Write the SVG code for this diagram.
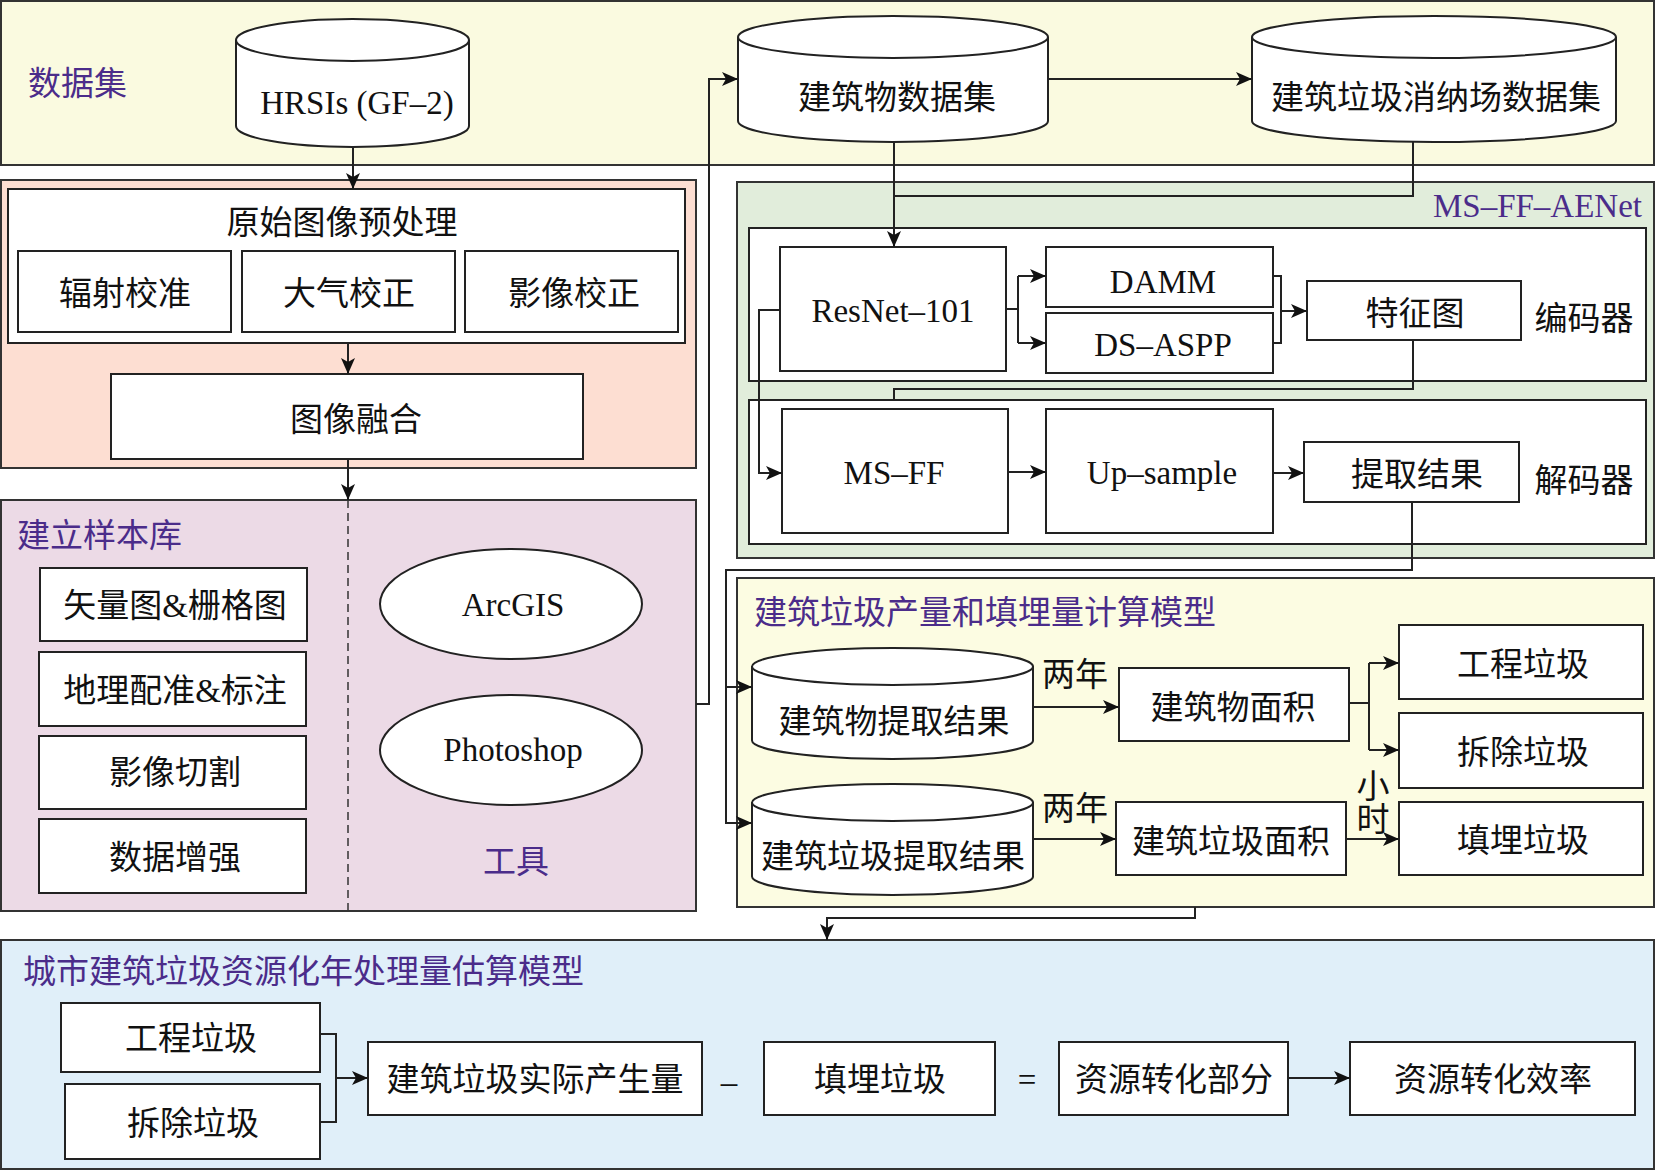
<svg xmlns="http://www.w3.org/2000/svg" width="1656" height="1171" viewBox="0 0 1656 1171">
<style>
.panel{stroke:#333;stroke-width:2}
.box{fill:#fff;stroke:#222;stroke-width:2}
.t{font-family:'Liberation Serif','Noto Sans CJK SC',serif;font-size:33px;fill:#111;text-anchor:middle;dominant-baseline:central}
.ttl{fill:#4B2C8A;text-anchor:start}
.conn{fill:none;stroke:#222;stroke-width:2}
.dash{fill:none;stroke:#333;stroke-width:1.5;stroke-dasharray:8,5}
</style>
<defs>
<marker id="ah" markerWidth="18" markerHeight="14" refX="16" refY="7" orient="auto" markerUnits="userSpaceOnUse"><path d="M0,0 L16,7 L0,14 L4,7 z" fill="#111"/></marker>
</defs>

<g id="panels">
<rect class="panel" x="1" y="1" width="1653" height="164" fill="#FAFAE0"/>
<rect class="panel" x="1" y="180" width="695" height="288" fill="#FDDED2"/>
<rect class="panel" x="1" y="500" width="695" height="411" fill="#ECDAE6"/>
<rect class="panel" x="737" y="182" width="917" height="376" fill="#E1EDDB"/>
<rect class="panel" x="737" y="578" width="917" height="329" fill="#FCFCE2"/>
<rect class="panel" x="1" y="940" width="1653" height="229" fill="#E0EFF9"/>
<line class="dash" x1="348" y1="500" x2="348" y2="911"/>
<rect class="box" x="749" y="228" width="897" height="153"/>
<rect class="box" x="749" y="400" width="897" height="144"/>
</g>

<g id="labels">
<text class="t ttl" x="28" y="84">数据集</text>
<text class="t ttl" x="17" y="536">建立样本库</text>
<text class="t ttl" x="516" y="862" style="text-anchor:middle">工具</text>
<text class="t ttl" x="1642" y="206" style="text-anchor:end">MS–FF–AENet</text>
<text class="t" x="1584" y="319">编码器</text>
<text class="t" x="1584" y="481">解码器</text>
<text class="t ttl" x="754" y="613">建筑垃圾产量和填埋量计算模型</text>
<text class="t ttl" x="23" y="972">城市建筑垃圾资源化年处理量估算模型</text>
<text class="t" x="1075" y="675">两年</text>
<text class="t" x="1075" y="809">两年</text>
<text class="t" x="1373" y="787">小</text>
<text class="t" x="1373" y="820">时</text>
<text class="t" x="729" y="1082">–</text>
<text class="t" x="1027" y="1080">=</text>
</g>

<g id="n-hrsis">
<path class="box" d="M236,40 A116.5,21 0 0 1 469,40 V126 A116.5,21 0 0 1 236,126 Z"/>
<path class="conn" d="M236,40 A116.5,21 0 0 0 469,40"/>
<text class="t" x="357" y="103">HRSIs (GF–2)</text>
</g>
<g id="n-building-ds">
<path class="box" d="M738,37 A155,21 0 0 1 1048,37 V121 A155,21 0 0 1 738,121 Z"/>
<path class="conn" d="M738,37 A155,21 0 0 0 1048,37"/>
<text class="t" x="897" y="98">建筑物数据集</text>
</g>
<g id="n-landfill-ds">
<path class="box" d="M1252,37 A182,21 0 0 1 1616,37 V121 A182,21 0 0 1 1252,121 Z"/>
<path class="conn" d="M1252,37 A182,21 0 0 0 1616,37"/>
<text class="t" x="1436" y="98">建筑垃圾消纳场数据集</text>
</g>

<g id="n-preprocess">
<rect class="box" x="8" y="189" width="677" height="154"/>
<text class="t" x="342" y="223">原始图像预处理</text>
</g>
<g id="n-radiometric"><rect class="box" x="18" y="251" width="213" height="81"/><text class="t" x="125" y="294">辐射校准</text></g>
<g id="n-atmospheric"><rect class="box" x="242" y="251" width="213" height="81"/><text class="t" x="349" y="294">大气校正</text></g>
<g id="n-geometric"><rect class="box" x="465" y="251" width="213" height="81"/><text class="t" x="574" y="294">影像校正</text></g>
<g id="n-fusion"><rect class="box" x="111" y="374" width="472" height="85"/><text class="t" x="356" y="420">图像融合</text></g>

<g id="n-vector"><rect class="box" x="40" y="568" width="267" height="73"/><text class="t" x="175" y="606">矢量图&amp;栅格图</text></g>
<g id="n-georef"><rect class="box" x="39" y="652" width="267" height="74"/><text class="t" x="175" y="691">地理配准&amp;标注</text></g>
<g id="n-cut"><rect class="box" x="39" y="736" width="267" height="73"/><text class="t" x="175" y="773">影像切割</text></g>
<g id="n-augment"><rect class="box" x="39" y="819" width="267" height="74"/><text class="t" x="175" y="858">数据增强</text></g>
<g id="n-arcgis"><ellipse class="box" cx="511" cy="604" rx="131" ry="55"/><text class="t" x="513" y="605">ArcGIS</text></g>
<g id="n-photoshop"><ellipse class="box" cx="511" cy="750" rx="131" ry="55"/><text class="t" x="513" y="750">Photoshop</text></g>

<g id="n-resnet"><rect class="box" x="780" y="247" width="226" height="124"/><text class="t" x="893" y="311">ResNet–101</text></g>
<g id="n-damm"><rect class="box" x="1046" y="247" width="227" height="60"/><text class="t" x="1163" y="282">DAMM</text></g>
<g id="n-dsaspp"><rect class="box" x="1046" y="313" width="227" height="60"/><text class="t" x="1163" y="345">DS–ASPP</text></g>
<g id="n-featmap"><rect class="box" x="1307" y="281" width="214" height="59"/><text class="t" x="1415" y="314">特征图</text></g>
<g id="n-msff"><rect class="box" x="782" y="409" width="226" height="124"/><text class="t" x="894" y="473">MS–FF</text></g>
<g id="n-upsample"><rect class="box" x="1046" y="409" width="227" height="124"/><text class="t" x="1162" y="473">Up–sample</text></g>
<g id="n-result"><rect class="box" x="1304" y="442" width="215" height="60"/><text class="t" x="1417" y="475">提取结果</text></g>

<g id="n-bextract">
<path class="box" d="M752,666.5 A140.5,18.5 0 0 1 1033,666.5 V740.5 A140.5,18.5 0 0 1 752,740.5 Z"/>
<path class="conn" d="M752,666.5 A140.5,18.5 0 0 0 1033,666.5"/>
<text class="t" x="894" y="722">建筑物提取结果</text>
</g>
<g id="n-wextract">
<path class="box" d="M752,802.5 A140.5,18.5 0 0 1 1033,802.5 V876.5 A140.5,18.5 0 0 1 752,876.5 Z"/>
<path class="conn" d="M752,802.5 A140.5,18.5 0 0 0 1033,802.5"/>
<text class="t" x="893" y="857">建筑垃圾提取结果</text>
</g>
<g id="n-barea"><rect class="box" x="1119" y="668" width="230" height="73"/><text class="t" x="1233" y="708">建筑物面积</text></g>
<g id="n-warea"><rect class="box" x="1116" y="802" width="230" height="73"/><text class="t" x="1231" y="842">建筑垃圾面积</text></g>
<g id="n-eng"><rect class="box" x="1399" y="625" width="244" height="74"/><text class="t" x="1523" y="665">工程垃圾</text></g>
<g id="n-demo"><rect class="box" x="1399" y="713" width="244" height="75"/><text class="t" x="1523" y="753">拆除垃圾</text></g>
<g id="n-landfill"><rect class="box" x="1399" y="802" width="244" height="73"/><text class="t" x="1523" y="841">填埋垃圾</text></g>

<g id="n-eng2"><rect class="box" x="61" y="1003" width="259" height="69"/><text class="t" x="191" y="1039">工程垃圾</text></g>
<g id="n-demo2"><rect class="box" x="65" y="1084" width="255" height="75"/><text class="t" x="193" y="1124">拆除垃圾</text></g>
<g id="n-actual"><rect class="box" x="368" y="1042" width="334" height="73"/><text class="t" x="535" y="1080">建筑垃圾实际产生量</text></g>
<g id="n-landfill2"><rect class="box" x="764" y="1042" width="231" height="73"/><text class="t" x="880" y="1080">填埋垃圾</text></g>
<g id="n-convpart"><rect class="box" x="1059" y="1042" width="229" height="73"/><text class="t" x="1174" y="1080">资源转化部分</text></g>
<g id="n-convrate"><rect class="box" x="1350" y="1042" width="285" height="73"/><text class="t" x="1493" y="1080">资源转化效率</text></g>

<g id="connectors">
<path class="conn" d="M353,147 V189" marker-end="url(#ah)"/>
<path class="conn" d="M348,343 V374" marker-end="url(#ah)"/>
<path class="conn" d="M348,459 V500" marker-end="url(#ah)"/>
<path class="conn" d="M696,704 H709 V79 H738" marker-end="url(#ah)"/>
<path class="conn" d="M1048,79 H1252" marker-end="url(#ah)"/>
<path class="conn" d="M894,142 V247" marker-end="url(#ah)"/>
<path class="conn" d="M1413,142 V196 H894"/>
<path class="conn" d="M1006,309 H1018 M1018,276 V343"/>
<path class="conn" d="M1018,276 H1046" marker-end="url(#ah)"/>
<path class="conn" d="M1018,343 H1046" marker-end="url(#ah)"/>
<path class="conn" d="M1273,276 H1281 V343 H1273"/>
<path class="conn" d="M1281,311 H1307" marker-end="url(#ah)"/>
<path class="conn" d="M1413,340 V389 H894 V400"/>
<path class="conn" d="M780,310 H759 V473 H782" marker-end="url(#ah)"/>
<path class="conn" d="M1008,472 H1046" marker-end="url(#ah)"/>
<path class="conn" d="M1273,473 H1304" marker-end="url(#ah)"/>
<path class="conn" d="M1412,502 V570 H726 V823 H752" marker-end="url(#ah)"/>
<path class="conn" d="M726,687 H752" marker-end="url(#ah)"/>
<path class="conn" d="M1033,707 H1119" marker-end="url(#ah)"/>
<path class="conn" d="M1033,839 H1116" marker-end="url(#ah)"/>
<path class="conn" d="M1349,703 H1369 M1369,663 V750"/>
<path class="conn" d="M1369,663 H1399" marker-end="url(#ah)"/>
<path class="conn" d="M1369,750 H1399" marker-end="url(#ah)"/>
<path class="conn" d="M1346,839 H1399" marker-end="url(#ah)"/>
<path class="conn" d="M1195,907 V918 H827 V940" marker-end="url(#ah)"/>
<path class="conn" d="M320,1034 H336 V1122 H320"/>
<path class="conn" d="M336,1078 H368" marker-end="url(#ah)"/>
<path class="conn" d="M1288,1078 H1350" marker-end="url(#ah)"/>
</g>
</svg>
